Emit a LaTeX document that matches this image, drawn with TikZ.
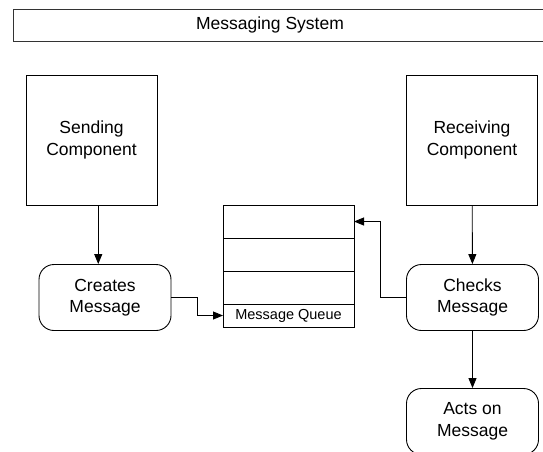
\documentclass[tikz,border=0pt]{standalone}
\usepackage{fontspec}
\setmainfont{Liberation Sans}
\usetikzlibrary{arrows.meta,positioning,calc}
\begin{document}
\begin{tikzpicture}[x=1pt,y=-1pt,line width=0.9pt,
    box/.style={draw,align=center,font=\fontsize{17.5}{21.5}\selectfont,inner sep=0pt},
    comp/.style={box,minimum width=131pt,minimum height=130pt},
    task/.style={box,rounded corners=15pt,minimum width=132pt,minimum height=66pt},
    cell/.style={draw,minimum width=131pt,minimum height=33pt,inner sep=0pt,outer sep=0pt},
    arr/.style={-{Triangle[length=10pt,width=8pt]}}]
  \useasboundingbox (0,0) rectangle (543,451);
  \clip (0,0) rectangle (543,451);
  \draw[draw=black!80] (13,9) rectangle (560,41);
  \node[font=\fontsize{17.5}{21.5}\selectfont] (title) at (270,25) {Messaging System};
  \node[comp] (send) at (91.5,140) {Sending\\Component};
  \node[comp] (recv) at (472,140) {Receiving\\Component};
  \node[task] (creates) at (105,297.5) {Creates\\Message};
  \node[task] (checks) at (472.5,297.5) {Checks\\Message};
  \node[task] (acts) at (472.5,421.5) {Acts on\\Message};
  % queue
  \node[cell] (q1) at (288.5,221.5) {};
  \node[cell,below=0pt of q1] (q2) {};
  \node[cell,below=0pt of q2] (q3) {};
  \node[cell,below=0pt of q3,minimum height=23pt,font=\fontsize{14.5}{17}\selectfont] (qlabel) {Message Queue};
  \coordinate (m) at ($(send.south)!.5!(creates.north)$);
  \begin{scope}[arr]
    \draw (m |- send.south) -- (m |- creates.north);
    \draw (recv) -- (checks);
    \draw (checks) -- (acts);
    \draw (creates.east) -- ++(26,0) |- (qlabel.west);
    \draw (checks.west) -- ++(-26,0) |- (q1.east);
  \end{scope}
\end{tikzpicture}
\end{document}
